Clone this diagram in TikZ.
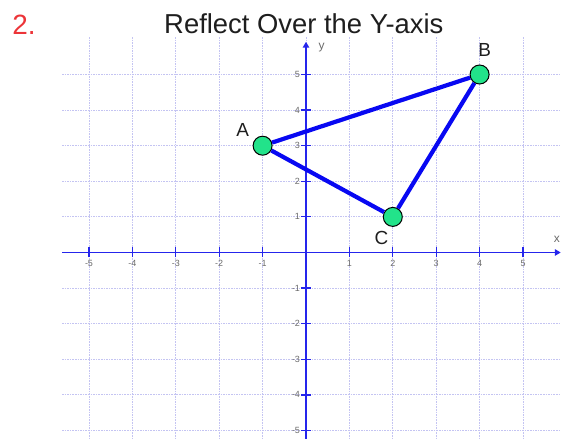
\documentclass[tikz,border=0pt]{standalone}
\usepackage{fontspec}
\setmainfont{Liberation Sans}
\usetikzlibrary{arrows.meta}
\definecolor{gridc}{HTML}{C4C4F2}
\definecolor{axisc}{HTML}{2525EC}
\definecolor{segc}{HTML}{0808F2}
\definecolor{ptfill}{HTML}{22E38A}
\definecolor{numc}{HTML}{6A6A6A}
\definecolor{titlec}{HTML}{1E1E1E}
\definecolor{redc}{HTML}{EC3438}
\begin{document}
\begin{tikzpicture}[x=43.4bp,y=35.6bp,
  gridline/.style={gridc, line width=0.9bp, dash pattern=on 1.6bp off 1bp},
  axisline/.style={axisc, line width=1.8bp},
  tickline/.style={axisc, line width=1.2bp},
  seg/.style={segc, line width=4.2bp},
  ptnode/.style={circle, draw=black, line width=1bp, fill=ptfill, minimum size=19bp, inner sep=0pt},
  ptlabel/.style={font=\fontsize{19}{19}\selectfont, text=titlec},
  numlabel/.style={font=\fontsize{9}{9}\selectfont, text=numc, inner sep=0pt},
  axlabel/.style={font=\fontsize{12}{12}\selectfont, text=numc, inner sep=0pt}]
\useasboundingbox (-7.0507,-5.2388) rectangle (5.8756,7.0927);
% grid
\foreach \i in {-5,...,5} {
  \draw[gridline] (-5.62,\i) -- (5.90,\i);
  \draw[gridline] (\i,6.05) -- (\i,-5.30);
}
% axes
\coordinate (xs) at (-5.62,0);
\coordinate (xe) at (5.87,0);
\coordinate (ys) at (0,-5.30);
\coordinate (ye) at (0,5.92);
\draw[axisline,-{Triangle[length=6bp,width=6.5bp]}] (xs) -- (xe);
\draw[axisline,-{Triangle[length=6bp,width=6.5bp]}] (ys) -- (ye);
% ticks and numbers
\foreach \i in {-5,-4,-3,-2,-1,1,2,3,4,5} {
  \draw[tickline] (\i,0) ++(0,-5bp) -- ++(0,10bp);
  \draw[tickline] (0,\i) ++(-5bp,0) -- ++(10bp,0);
  \node[numlabel] (xn\i) at ([yshift=-11bp]\i,0) {\i};
  \node[numlabel, anchor=east] (yn\i) at ([xshift=-6bp]0,\i) {\i};
}
\node[axlabel] (ylab) at (0.36,5.77) {y};
\node[axlabel] (xlab) at (5.78,0.38) {x};
% title
\node[font=\fontsize{27.5}{27.5}\selectfont, text=titlec, inner sep=0pt] (title) at (-0.05,6.42) {Reflect Over the Y-axis};
\node[font=\fontsize{28}{28}\selectfont, text=redc, inner sep=0pt] (num) at (-6.50,6.40) {2.};
% points
\node[ptnode] (A) at (-1,3) {};
\node[ptnode] (B) at (4,5) {};
\node[ptnode] (C) at (2,1) {};
\draw[seg] (A) -- (B);
\draw[seg] (B) -- (C);
\draw[seg] (C) -- (A);
\node[ptlabel] (Al) at (-1.46,3.43) {A};
\node[ptlabel] (Bl) at (4.12,5.68) {B};
\node[ptlabel] (Cl) at (1.74,0.41) {C};
\end{tikzpicture}
\end{document}
